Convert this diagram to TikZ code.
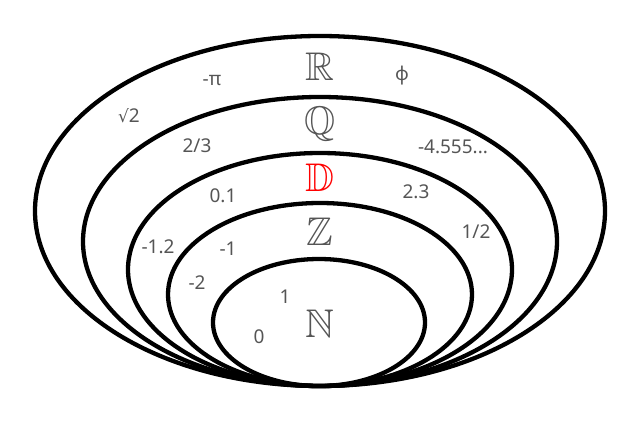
\documentclass[tikz,border=0pt]{standalone}
\usepackage{amssymb}
\usepackage{fontspec}
\newfontfamily\labfont{Noto Sans}
\newfontfamily\symfont{DejaVu Sans}
\definecolor{txt}{RGB}{85,85,85}
\definecolor{dred}{RGB}{255,0,0}
\begin{document}
\begin{tikzpicture}[x=1pt,y=-1pt,
  setline/.style={line width=4.3pt,draw=black},
  num/.style={text=txt,font=\labfont\fontsize{19}{22}\selectfont,inner sep=0pt,anchor=base},
  setname/.style={text=txt,font=\fontsize{40}{44}\selectfont,inner sep=0pt,anchor=base}]
\useasboundingbox (0,0) rectangle (640,423);
% nested sets
\draw[setline] (320,211) ellipse [x radius=285pt, y radius=175pt];
\draw[setline] (320,241.5) ellipse [x radius=237pt, y radius=144.5pt];
\draw[setline] (320,269.5) ellipse [x radius=192pt, y radius=116.5pt];
\draw[setline] (320,294.5) ellipse [x radius=152pt, y radius=91.5pt];
\draw[setline] (319,322.5) ellipse [x radius=106pt, y radius=63.5pt];
% set names
\node[setname] (R) at (320,80) {$\mathbb{R}$};
\node[setname] (Q) at (320,134) {$\mathbb{Q}$};
\node[setname,text=dred] (D) at (320,191) {$\mathbb{D}$};
\node[setname] (Z) at (320,245) {$\mathbb{Z}$};
\node[setname] (N) at (320,337) {$\mathbb{N}$};
% elements
\node[num] (mpi) at (212,85) {-π};
\node[num] (sq2) at (129,122) {{\symfont\fontsize{17}{20}\selectfont √}2};
\node[num] (phi) at (402,80) {ϕ};
\node[num] (twothirds) at (197,152) {2/3};
\node[num] (m4555) at (453,153) {-4.555...};
\node[num] (zeroone) at (223,202) {0.1};
\node[num] (twothree) at (416,198) {2.3};
\node[num] (mone2) at (158,253) {-1.2};
\node[num] (half) at (476,238) {1/2};
\node[num] (mone) at (228,255) {-1};
\node[num] (mtwo) at (197,289) {-2};
\node[num] (one) at (285,303) {1};
\node[num] (zero) at (259,343) {0};
\end{tikzpicture}
\end{document}
